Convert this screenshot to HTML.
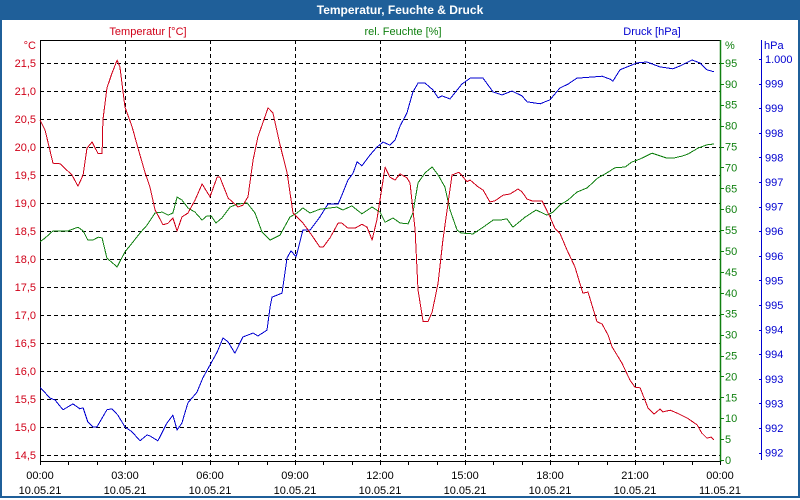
<!DOCTYPE html>
<html><head><meta charset="utf-8">
<style>
html,body{margin:0;padding:0;background:#fff;}
body{width:800px;height:500px;overflow:hidden;position:relative;font-family:"Liberation Sans",sans-serif;}
#frame{position:absolute;left:0;top:0;width:796px;height:496px;border:2px solid #1f5f99;border-top:none;}
#titlebar{position:absolute;left:0;top:0;width:800px;height:20px;background:#1f5f99;color:#fff;font-weight:bold;font-size:12px;line-height:20px;text-align:center;}
svg{position:absolute;left:0;top:0;}
svg text{font-family:"Liberation Sans",sans-serif;font-size:11px;}
</style></head>
<body>
<div id="frame"></div>
<div id="titlebar">Temperatur, Feuchte &amp; Druck</div>
<svg id="chart" width="800" height="500"></svg>
<script>
// ---- data ----
const tempHours=[0,0.18,0.46,0.71,1.13,1.34,1.52,1.66,1.84,2.05,2.19,2.22,2.36,2.54,2.72,2.82,3.00,3.25,3.46,3.71,3.88,4.06,4.34,4.52,4.69,4.84,5.01,5.22,5.47,5.72,6.00,6.25,6.35,6.64,6.99,7.16,7.34,7.52,7.69,8.05,8.22,8.47,8.72,8.93,9.25,9.46,9.64,9.88,9.99,10.24,10.52,10.66,10.87,11.12,11.36,11.54,11.72,11.89,12.18,12.35,12.53,12.71,12.95,13.06,13.24,13.34,13.52,13.69,13.84,14.05,14.22,14.54,14.79,15.07,15.18,15.46,15.64,15.88,16.06,16.34,16.59,16.87,17.01,17.19,17.36,17.72,18.00,18.18,18.35,18.60,18.88,19.16,19.34,19.66,19.84,20.05,20.19,20.36,20.54,20.82,21.00,21.18,21.46,21.67,21.88,21.99,22.24,22.48,22.84,23.19,23.36,23.54,23.68,23.79];
const tempValues=[20.48,20.30,19.71,19.70,19.50,19.30,19.50,19.98,20.09,19.88,19.88,20.48,21.05,21.32,21.55,21.43,20.71,20.36,19.98,19.54,19.29,18.88,18.61,18.64,18.73,18.50,18.75,18.82,19.05,19.34,19.11,19.46,19.46,19.09,18.93,18.96,19.11,19.77,20.18,20.70,20.61,20.04,19.54,18.82,18.66,18.52,18.39,18.21,18.21,18.38,18.64,18.64,18.55,18.55,18.62,18.57,18.34,18.70,19.64,19.46,19.41,19.52,19.45,19.36,18.52,17.45,16.88,16.88,17.05,17.57,18.34,19.50,19.55,19.38,19.41,19.29,19.23,19.02,19.04,19.14,19.16,19.25,19.20,19.07,19.04,19.04,18.75,18.54,18.46,18.16,17.86,17.39,17.41,16.88,16.84,16.64,16.43,16.29,16.14,15.84,15.71,15.70,15.34,15.23,15.32,15.27,15.30,15.25,15.16,15.04,14.89,14.80,14.82,14.77];
const humHours=[0,0.18,0.46,0.71,0.99,1.34,1.52,1.69,1.87,2.05,2.19,2.36,2.72,3.00,3.25,3.53,3.78,4.06,4.31,4.52,4.69,4.84,5.01,5.22,5.47,5.72,5.89,6.04,6.21,6.42,6.71,6.95,7.31,7.59,7.84,8.12,8.47,8.82,9.07,9.28,9.53,9.88,10.48,10.69,11.01,11.36,11.72,12.00,12.18,12.46,12.71,12.99,13.16,13.34,13.59,13.84,14.05,14.29,14.47,14.72,14.86,15.28,15.64,15.99,16.24,16.48,16.69,17.12,17.51,17.89,18.11,18.35,18.64,18.95,19.31,19.69,20.01,20.29,20.65,20.89,21.18,21.60,22.13,22.34,22.66,22.87,23.22,23.54,23.79];
const humValues=[52.2,53.1,54.8,54.8,54.8,55.7,54.8,52.6,52.6,53.3,53.1,48.3,46.2,49.8,51.9,54.3,56.2,59.1,59.3,58.6,59.1,62.9,62.2,60.3,59.3,57.4,58.4,58.4,56.7,57.9,60.5,61.2,61.5,59.1,54.5,52.6,53.8,58.1,59.1,60.3,59.1,60.0,60.5,59.8,60.8,58.9,60.5,59.3,56.9,57.9,56.7,56.5,59.1,66.3,68.7,70.1,68.2,65.3,59.8,55.0,54.3,54.1,55.7,57.4,57.4,57.7,55.7,58.1,59.8,58.6,59.3,61.0,62.2,64.1,65.1,67.5,68.7,69.9,70.1,71.3,72.0,73.4,72.2,72.2,72.7,73.2,74.6,75.4,75.6];
const presHours=[0,0.35,0.53,0.81,1.16,1.41,1.52,1.69,1.87,2.01,2.36,2.54,2.75,3.00,3.25,3.53,3.78,3.88,4.16,4.48,4.69,4.84,5.01,5.22,5.54,5.75,6.00,6.25,6.46,6.64,6.88,7.16,7.52,7.69,8.01,8.12,8.19,8.54,8.72,8.86,9.04,9.28,9.53,9.88,10.16,10.52,10.66,10.87,11.05,11.19,11.36,11.65,11.89,12.11,12.35,12.53,12.71,12.95,13.16,13.34,13.59,13.87,14.05,14.19,14.47,14.89,15.18,15.64,15.99,16.31,16.66,17.01,17.19,17.65,18.00,18.35,18.64,18.95,19.41,19.84,20.12,20.22,20.47,20.72,21.07,21.42,21.88,22.34,22.59,23.01,23.29,23.54,23.79];
const presValues=[993.33,993.11,993.07,992.87,992.99,992.89,992.91,992.62,992.52,992.52,992.87,992.89,992.76,992.52,992.42,992.24,992.36,992.34,992.24,992.60,992.76,992.46,992.60,993.01,993.23,993.52,993.78,994.04,994.33,994.25,994.02,994.35,994.43,994.37,994.49,994.96,995.16,995.24,995.96,996.10,995.98,996.52,996.52,996.79,997.05,997.05,997.24,997.54,997.68,997.91,997.83,998.05,998.21,998.31,998.25,998.35,998.64,998.90,999.33,999.51,999.51,999.37,999.21,999.25,999.19,999.49,999.61,999.61,999.33,999.27,999.35,999.25,999.13,999.09,999.17,999.41,999.49,999.61,999.63,999.65,999.59,999.55,999.78,999.84,999.92,999.94,999.84,999.80,999.86,999.98,999.92,999.78,999.74];
const tempTicks=[21.5,21.0,20.5,20.0,19.5,19.0,18.5,18.0,17.5,17.0,16.5,16.0,15.5,15.0,14.5];
const humTicks=[95,90,85,80,75,70,65,60,55,50,45,40,35,30,25,20,15,10,5,0];
const presTicks=[1000,999.5,999,998.5,998,997.5,997,996.5,996,995.5,995,994.5,994,993.5,993,992.5,992];
const presTickLabels=["1.000","999","999","998","998","997","997","996","996","995","995","994","994","993","993","992","992"];
const timeTicks=[0,3,6,9,12,15,18,21,24];
const timeLabels=["00:00","03:00","06:00","09:00","12:00","15:00","18:00","21:00","00:00"];
const dateLabels=["10.05.21","10.05.21","10.05.21","10.05.21","10.05.21","10.05.21","10.05.21","10.05.21","11.05.21"];

// ---- scales ----
const L=40,R=720,T=40,B=461;
const xS=h=>L+h*(R-L)/24;
const yT=v=>63+(21.5-v)*56;
const yH=v=>460-v*4.18;
const yP=v=>59+(1000-v)*49.2;
const RED="#d00018",GRN="#108010",BLU="#0000d0";
const svg=document.getElementById('chart');
const NS="http://www.w3.org/2000/svg";
function mk(tag,attrs){const e=document.createElementNS(NS,tag);for(const k in attrs)e.setAttribute(k,attrs[k]);svg.appendChild(e);return e;}
function txt(x,y,s,fill,anchor){const e=mk('text',{x:x,y:y,fill:fill,'text-anchor':anchor||'start'});e.textContent=s;return e;}

// grid
tempTicks.forEach(v=>{const y=Math.round(yT(v))+0.5;
 const g=mk('line',{x1:L,x2:R,y1:y,y2:y,stroke:'#000','stroke-dasharray':'4,3'});
 
 });
timeTicks.forEach((h,i)=>{if(i==0||i==timeTicks.length-1)return;const x=Math.round(xS(h))+0.5;
 const g=mk('line',{x1:x,x2:x,y1:T,y2:B,stroke:'#000','stroke-dasharray':'4,3'});
 
 });

// axes
const ax1=mk('path',{d:`M${L+0.5},${B} V${T+0.5} H${R}`,stroke:'#000',fill:'none'});


const ax2=mk('line',{x1:L,x2:R,y1:B+0.5,y2:B+0.5,stroke:'#000'});


const ax3=mk('line',{x1:R+0.5,x2:R+0.5,y1:T,y2:B+1,stroke:GRN,'stroke-width':1.5});


const ax4=mk('line',{x1:761.5,x2:761.5,y1:T,y2:B-1,stroke:BLU});



// temperature ticks
tempTicks.forEach(v=>{const y=yT(v);const s=v.toFixed(1).replace('.',',');
 const t=txt(36,y+4,s,RED,'end');
 
 });
const tu=txt(36,49,'°C',RED,'end');


// humidity ticks
humTicks.forEach(v=>{const y=yH(v);
 const tk=mk('line',{x1:R,x2:R+4,y1:Math.round(y)+0.5,y2:Math.round(y)+0.5,stroke:GRN});
 
 
 const t=txt(725,y+4,String(v),GRN,'start');
 
 });
const hu=txt(725,49,'%',GRN,'start');


// pressure ticks
presTicks.forEach((v,i)=>{const y=yP(v);
 const tk=mk('line',{x1:759,x2:762,y1:Math.round(y)+0.5,y2:Math.round(y)+0.5,stroke:BLU});
 
 
 const t=txt(765,y+4,presTickLabels[i],BLU,'start');
 
 });
const pu=txt(764,49,'hPa',BLU,'start');


// time ticks
for(let h=0;h<=24;h++){const x=Math.round(xS(h))+0.5;
 const tk=mk('line',{x1:x,x2:x,y1:B,y2:B+4,stroke:'#000'});
 
 }
timeTicks.forEach((h,i)=>{const x=xS(h);
 const a=txt(x,479,timeLabels[i],'#000','middle');
 
 
 const b=txt(x,494,dateLabels[i],'#000','middle');
 
 });

// series titles
const s1=txt(148,35,'Temperatur [°C]',RED,'middle');


const s2=txt(403,35,'rel. Feuchte [%]',GRN,'middle');


const s3=txt(652,35,'Druck [hPa]',BLU,'middle');



// lines
function line(hs,vs,ys,col){return mk('polyline',{points:hs.map((h,i)=>xS(h).toFixed(1)+','+ys(vs[i]).toFixed(1)).join(' '),fill:'none',stroke:col,'stroke-width':1,'stroke-linejoin':'round','shape-rendering':'crispEdges'});}
const lp=line(presHours,presValues,yP,BLU);


const lh=line(humHours,humValues,yH,GRN);


const lt=line(tempHours,tempValues,yT,RED);


</script>
</body></html>
